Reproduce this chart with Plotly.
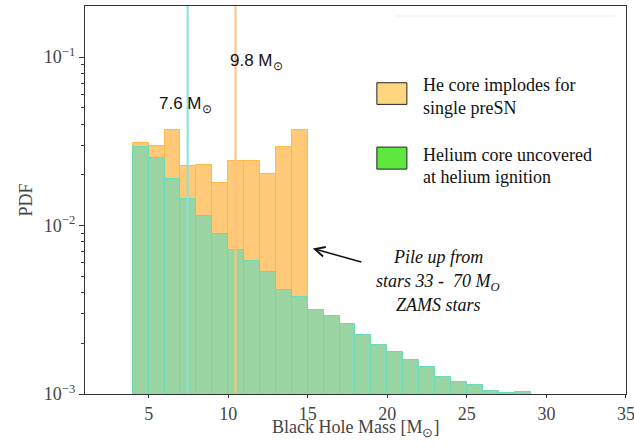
import plotly.graph_objects as go

# Histogram bins: left edges of 1 M_sun wide bins
bin_left = list(range(4, 29))
# Helium core uncovered at helium ignition (PDF per bin)
pdf_helium = [0.0291, 0.0253, 0.0188, 0.01435, 0.01133, 0.00893, 0.00717, 0.00614,
              0.00529, 0.00415, 0.00375, 0.00316, 0.00292, 0.00262, 0.00223, 0.00195,
              0.00178, 0.00160, 0.00144, 0.00127, 0.00118, 0.00113, 0.00104, 0.00101,
              0.00103]
# He core implodes for single preSN (bins 4-15)
bin_left_core = list(range(4, 15))
pdf_core = [0.0310, 0.0295, 0.0370, 0.0225, 0.0229, 0.0180, 0.0241, 0.0241,
            0.0201, 0.0291, 0.0370]

# Reference masses marked by vertical lines
line_masses = [7.45, 10.46]
line_labels = ["7.6 M<sub>⊙</sub>", "9.8 M<sub>⊙</sub>"]

x_ticks = [5, 10, 15, 20, 25, 30, 35]
y_ticks = [1e-3, 1e-2, 1e-1]
y_tick_text = ["10<sup>−3</sup>", "10<sup>−2</sup>", "10<sup>−1</sup>"]
y_minor = [k * 10 ** e for e in (-3, -2) for k in range(2, 10)]

serif = "Liberation Serif"
sans = "Liberation Sans"

fig = go.Figure()
fig.add_trace(go.Bar(
    x=[b + 0.5 for b in bin_left_core], y=pdf_core, width=1,
    marker=dict(color="#ffc978", line=dict(color="#ffb84a", width=1)),
    showlegend=False,
))
fig.add_trace(go.Bar(
    x=[b + 0.5 for b in bin_left], y=pdf_helium, width=1,
    marker=dict(color="#9bd4a3", line=dict(color="#66dcb8", width=1)),
    showlegend=False,
))

line_colors = ["#86e3da", "#ffc27a"]
for m, c in zip(line_masses, line_colors):
    fig.add_shape(type="line", xref="x", yref="paper", x0=m, x1=m, y0=0, y1=1,
                  line=dict(color=c, width=2), layer="above")

W, H = 634, 447
L, R, T, B = 85, 625.7, 6, 393.7
def px(xp):
    return (xp - L) / (R - L)
def py(yp):
    return (B - yp) / (B - T)

# Labels next to the vertical lines
fig.add_annotation(x=px(157), y=py(105), xref="paper", yref="paper", xanchor="left",
                   yanchor="middle", text=line_labels[0], showarrow=False,
                   font=dict(family=sans, size=17, color="#111"))
fig.add_annotation(x=px(228), y=py(62), xref="paper", yref="paper", xanchor="left",
                   yanchor="middle", text=line_labels[1], showarrow=False,
                   font=dict(family=sans, size=17, color="#111"))

# Legend drawn as patches with text
legend_items = [("#ffd580", ["He core implodes for", "single preSN"], 82.7, 104.3, 85, 108.3),
                ("#5ee83f", ["Helium core uncovered", "at helium ignition"], 147, 169, 155, 176.7)]
for color, lines, y0, y1, t1, t2 in legend_items:
    fig.add_shape(type="rect", xref="paper", yref="paper",
                  x0=px(376.7), x1=px(406.7), y0=py(y1), y1=py(y0),
                  fillcolor=color, line=dict(color="#222", width=1))
    for txt, ty in zip(lines, (t1, t2)):
        fig.add_annotation(x=px(421), y=py(ty), xref="paper", yref="paper",
                           xanchor="left", yanchor="middle", text=txt, showarrow=False,
                           font=dict(family=serif, size=18, color="#111"))
fig.add_shape(type="line", xref="paper", yref="paper", x0=px(395), x1=px(615),
              y0=py(16), y1=py(16), line=dict(color="#eeeeee", width=1))

# Pile-up note with arrow
fig.add_annotation(x=px(312.7), y=py(248.3), ax=50, ay=14,
                   xref="paper", yref="paper", axref="pixel", ayref="pixel",
                   text="", showarrow=True, arrowhead=5, arrowsize=1.3,
                   arrowwidth=1.5, arrowcolor="#111")
for txt, ty in (("<i>Pile up from</i>", 257), ("<i>stars 33 -  70 M<sub>O</sub></i>", 282),
                ("<i>ZAMS stars</i>", 305)):
    fig.add_annotation(x=px(438), y=py(ty), xref="paper", yref="paper",
                       xanchor="center", yanchor="middle", text=txt, showarrow=False,
                       font=dict(family=serif, size=18, color="#111"))

# x-axis title placed just under the tick labels
fig.add_annotation(x=0.5, y=py(428.5), xref="paper", yref="paper", xanchor="center",
                   yanchor="middle", text="Black Hole Mass [M<sub>⊙</sub>]",
                   showarrow=False, font=dict(family=serif, size=18, color="#444"))

axis_common = dict(showline=True, linecolor="#333", linewidth=1.3, mirror=True,
                   showgrid=False, zeroline=False, ticks="outside", tickcolor="#333",
                   tickfont=dict(family=serif, size=18, color="#444"))
fig.update_layout(
    width=W, height=H, margin=dict(l=L, r=W - R, t=T, b=H - B),
    paper_bgcolor="white", plot_bgcolor="white", barmode="overlay", bargap=0,
    xaxis=dict(range=[1, 35.002], tickvals=x_ticks, ticklen=3, automargin=False,
               ticklabeloverflow="allow", **axis_common),
    yaxis=dict(type="log", range=[-3, -0.697], tickvals=y_ticks, ticktext=y_tick_text,
               ticklen=5, **axis_common,
               minor=dict(tickvals=y_minor, ticks="outside", ticklen=3, tickcolor="#333"),
               title=dict(text="PDF", standoff=6,
                          font=dict(family=serif, size=18, color="#444"))),
)

fig.write_html("out.html")
